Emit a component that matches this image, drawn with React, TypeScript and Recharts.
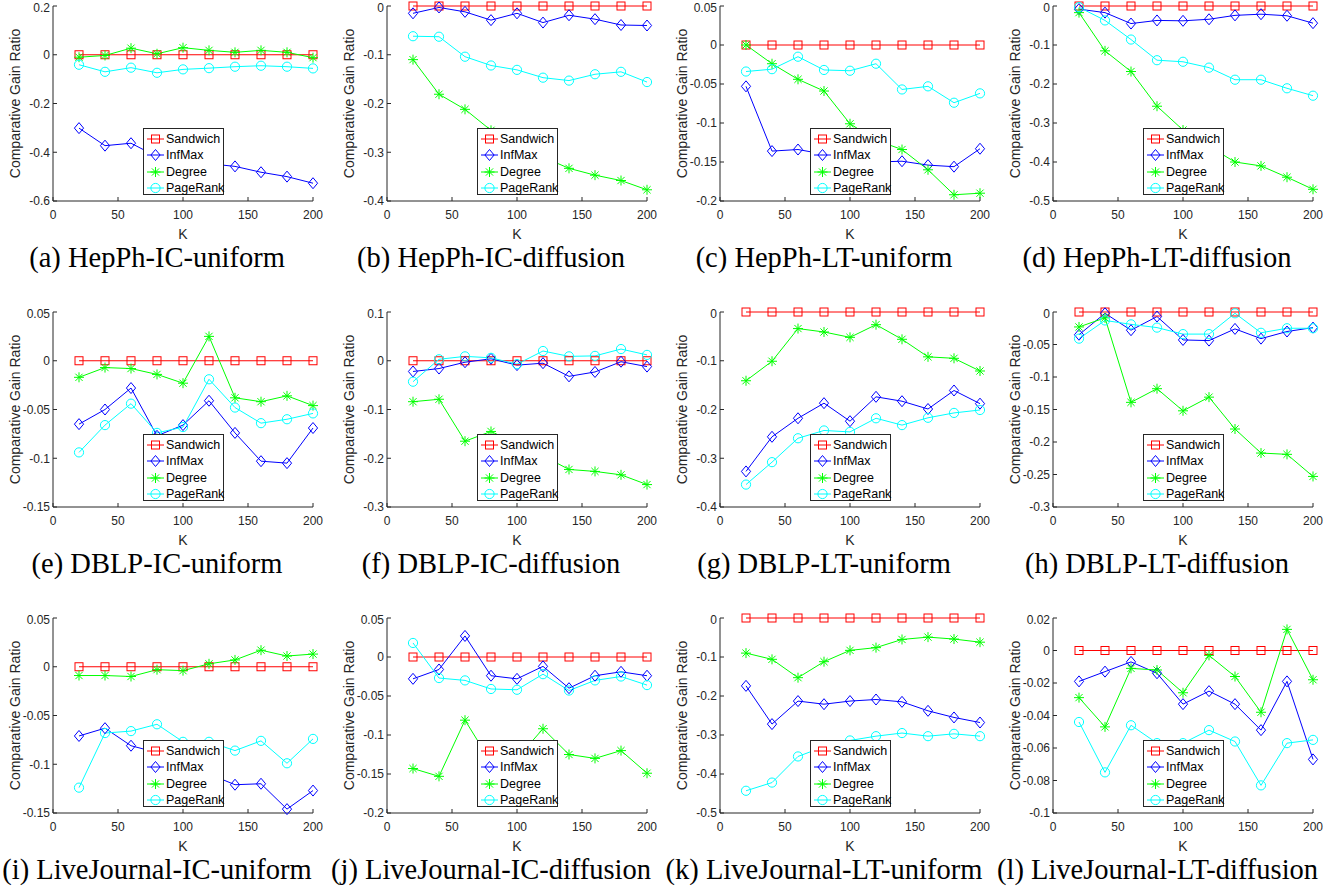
import React from 'react';
import { LineChart, Line, XAxis, YAxis, Legend } from 'recharts';

const K = [20, 40, 60, 80, 100, 120, 140, 160, 180, 200];
const SANDWICH = [0, 0, 0, 0, 0, 0, 0, 0, 0, 0];
const X_TICKS = [0, 50, 100, 150, 200];

// (a) HepPh-IC-uniform
const A_INFMAX = [-0.301, -0.373, -0.363, -0.418, -0.435, -0.447, -0.458, -0.482, -0.5, -0.527];
const A_DEGREE = [-0.01, -0.003, 0.027, 0.004, 0.029, 0.018, 0.01, 0.018, 0.01, -0.012];
const A_PAGERANK = [-0.041, -0.07, -0.053, -0.074, -0.06, -0.055, -0.049, -0.045, -0.049, -0.056];
// (b) HepPh-IC-diffusion
const B_INFMAX = [-0.015, -0.003, -0.012, -0.029, -0.015, -0.034, -0.019, -0.027, -0.039, -0.04];
const B_DEGREE = [-0.11, -0.181, -0.212, -0.255, -0.28, -0.31, -0.333, -0.347, -0.358, -0.377];
const B_PAGERANK = [-0.062, -0.063, -0.104, -0.122, -0.131, -0.147, -0.153, -0.14, -0.135, -0.156];
// (c) HepPh-LT-uniform
const C_INFMAX = [-0.053, -0.136, -0.134, -0.14, -0.145, -0.15, -0.149, -0.154, -0.156, -0.133];
const C_DEGREE = [0, -0.024, -0.044, -0.059, -0.101, -0.122, -0.134, -0.16, -0.192, -0.19];
const C_PAGERANK = [-0.034, -0.031, -0.015, -0.032, -0.033, -0.024, -0.057, -0.053, -0.074, -0.062];
// (d) HepPh-LT-diffusion
const D_INFMAX = [-0.008, -0.017, -0.045, -0.037, -0.038, -0.034, -0.024, -0.021, -0.025, -0.044];
const D_DEGREE = [-0.017, -0.115, -0.168, -0.257, -0.318, -0.36, -0.4, -0.41, -0.439, -0.47];
const D_PAGERANK = [-0.003, -0.037, -0.086, -0.139, -0.143, -0.158, -0.189, -0.189, -0.211, -0.23];
// (e) DBLP-IC-uniform
const E_INFMAX = [-0.065, -0.05, -0.028, -0.077, -0.066, -0.041, -0.074, -0.103, -0.105, -0.069];
const E_DEGREE = [-0.017, -0.007, -0.008, -0.014, -0.023, 0.025, -0.038, -0.042, -0.036, -0.046];
const E_PAGERANK = [-0.094, -0.066, -0.044, -0.074, -0.068, -0.019, -0.048, -0.064, -0.06, -0.054];
// (f) DBLP-IC-diffusion
const F_INFMAX = [-0.022, -0.016, -0.003, 0.004, -0.009, -0.005, -0.032, -0.023, -0.002, -0.012];
const F_DEGREE = [-0.084, -0.079, -0.165, -0.145, -0.17, -0.195, -0.223, -0.227, -0.234, -0.254];
const F_PAGERANK = [-0.043, 0.003, 0.009, 0.006, -0.007, 0.02, 0.009, 0.01, 0.024, 0.012];
// (g) DBLP-LT-uniform
const G_INFMAX = [-0.327, -0.256, -0.218, -0.187, -0.224, -0.174, -0.183, -0.199, -0.161, -0.188];
const G_DEGREE = [-0.141, -0.101, -0.034, -0.041, -0.052, -0.026, -0.056, -0.092, -0.095, -0.121];
const G_PAGERANK = [-0.354, -0.308, -0.259, -0.243, -0.246, -0.218, -0.232, -0.217, -0.207, -0.201];
// (h) DBLP-LT-diffusion
const H_INFMAX = [-0.035, -0.002, -0.028, -0.007, -0.043, -0.044, -0.026, -0.041, -0.03, -0.024];
const H_DEGREE = [-0.023, -0.009, -0.139, -0.118, -0.152, -0.131, -0.18, -0.217, -0.219, -0.253];
const H_PAGERANK = [-0.041, -0.013, -0.019, -0.024, -0.034, -0.034, -0.002, -0.032, -0.025, -0.025];
// (i) LiveJournal-IC-uniform
const I_INFMAX = [-0.071, -0.063, -0.081, -0.088, -0.096, -0.11, -0.121, -0.12, -0.146, -0.127];
const I_DEGREE = [-0.009, -0.009, -0.01, -0.003, -0.004, 0.003, 0.007, 0.017, 0.011, 0.013];
const I_PAGERANK = [-0.124, -0.068, -0.066, -0.059, -0.077, -0.077, -0.086, -0.076, -0.099, -0.074];
// (j) LiveJournal-IC-diffusion
const J_INFMAX = [-0.028, -0.016, 0.027, -0.024, -0.028, -0.012, -0.04, -0.024, -0.019, -0.024];
const J_DEGREE = [-0.143, -0.153, -0.081, -0.135, -0.13, -0.092, -0.125, -0.13, -0.12, -0.149];
const J_PAGERANK = [0.018, -0.027, -0.03, -0.041, -0.042, -0.022, -0.043, -0.03, -0.025, -0.036];
// (k) LiveJournal-LT-uniform
const K_INFMAX = [-0.174, -0.272, -0.213, -0.221, -0.213, -0.209, -0.215, -0.238, -0.255, -0.268];
const K_DEGREE = [-0.09, -0.106, -0.153, -0.112, -0.083, -0.076, -0.055, -0.049, -0.054, -0.062];
const K_PAGERANK = [-0.443, -0.422, -0.355, -0.33, -0.314, -0.303, -0.295, -0.303, -0.297, -0.303];
// (l) LiveJournal-LT-diffusion
const L_INFMAX = [-0.019, -0.013, -0.007, -0.014, -0.033, -0.025, -0.033, -0.049, -0.019, -0.067];
const L_DEGREE = [-0.029, -0.047, -0.011, -0.012, -0.026, -0.003, -0.016, -0.038, 0.013, -0.018];
const L_PAGERANK = [-0.044, -0.075, -0.046, -0.057, -0.057, -0.049, -0.056, -0.083, -0.057, -0.055];

const SERIES = [
  { key: 'sandwich', name: 'Sandwich', color: '#ff0000', shape: 'square' },
  { key: 'infmax', name: 'InfMax', color: '#0000ff', shape: 'diamond' },
  { key: 'degree', name: 'Degree', color: '#00ff00', shape: 'star' },
  { key: 'pagerank', name: 'PageRank', color: '#00ffff', shape: 'circle' },
];

const PANELS = [
  { caption: '(a) HepPh-IC-uniform', inf: A_INFMAX, deg: A_DEGREE, pr: A_PAGERANK, domain: [-0.6, 0.2], ticks: [-0.6, -0.4, -0.2, 0, 0.2] },
  { caption: '(b) HepPh-IC-diffusion', inf: B_INFMAX, deg: B_DEGREE, pr: B_PAGERANK, domain: [-0.4, 0], ticks: [-0.4, -0.3, -0.2, -0.1, 0] },
  { caption: '(c) HepPh-LT-uniform', inf: C_INFMAX, deg: C_DEGREE, pr: C_PAGERANK, domain: [-0.2, 0.05], ticks: [-0.2, -0.15, -0.1, -0.05, 0, 0.05] },
  { caption: '(d) HepPh-LT-diffusion', inf: D_INFMAX, deg: D_DEGREE, pr: D_PAGERANK, domain: [-0.5, 0], ticks: [-0.5, -0.4, -0.3, -0.2, -0.1, 0] },
  { caption: '(e) DBLP-IC-uniform', inf: E_INFMAX, deg: E_DEGREE, pr: E_PAGERANK, domain: [-0.15, 0.05], ticks: [-0.15, -0.1, -0.05, 0, 0.05] },
  { caption: '(f) DBLP-IC-diffusion', inf: F_INFMAX, deg: F_DEGREE, pr: F_PAGERANK, domain: [-0.3, 0.1], ticks: [-0.3, -0.2, -0.1, 0, 0.1] },
  { caption: '(g) DBLP-LT-uniform', inf: G_INFMAX, deg: G_DEGREE, pr: G_PAGERANK, domain: [-0.4, 0], ticks: [-0.4, -0.3, -0.2, -0.1, 0] },
  { caption: '(h) DBLP-LT-diffusion', inf: H_INFMAX, deg: H_DEGREE, pr: H_PAGERANK, domain: [-0.3, 0], ticks: [-0.3, -0.25, -0.2, -0.15, -0.1, -0.05, 0] },
  { caption: '(i) LiveJournal-IC-uniform', inf: I_INFMAX, deg: I_DEGREE, pr: I_PAGERANK, domain: [-0.15, 0.05], ticks: [-0.15, -0.1, -0.05, 0, 0.05] },
  { caption: '(j) LiveJournal-IC-diffusion', inf: J_INFMAX, deg: J_DEGREE, pr: J_PAGERANK, domain: [-0.2, 0.05], ticks: [-0.2, -0.15, -0.1, -0.05, 0, 0.05] },
  { caption: '(k) LiveJournal-LT-uniform', inf: K_INFMAX, deg: K_DEGREE, pr: K_PAGERANK, domain: [-0.5, 0], ticks: [-0.5, -0.4, -0.3, -0.2, -0.1, 0] },
  { caption: '(l) LiveJournal-LT-diffusion', inf: L_INFMAX, deg: L_DEGREE, pr: L_PAGERANK, domain: [-0.1, 0.02], ticks: [-0.1, -0.08, -0.06, -0.04, -0.02, 0, 0.02] },
];

const COL_X = [0, 334, 667, 1000];
const ROW_Y = [0, 306, 612];
const AXIS = '#262626';
const SANS = '"Liberation Sans", Arial, Helvetica, sans-serif';

function Marker({ shape, cx, cy, color }: { shape: string; cx: number; cy: number; color: string }) {
  if (shape === 'square') {
    return <rect x={cx - 4} y={cy - 4} width={8} height={8} fill="none" stroke={color} strokeWidth={1} />;
  }
  if (shape === 'diamond') {
    return (
      <path
        d={`M${cx},${cy - 5.5}L${cx + 4.6},${cy}L${cx},${cy + 5.5}L${cx - 4.6},${cy}Z`}
        fill="none"
        stroke={color}
        strokeWidth={1}
      />
    );
  }
  if (shape === 'star') {
    const r = 5;
    const d = 3.6;
    return (
      <path
        d={`M${cx - r},${cy}H${cx + r}M${cx},${cy - r}V${cy + r}M${cx - d},${cy - d}L${cx + d},${cy + d}M${cx - d},${cy + d}L${cx + d},${cy - d}`}
        stroke={color}
        strokeWidth={1}
        fill="none"
      />
    );
  }
  return <circle cx={cx} cy={cy} r={4.6} fill="none" stroke={color} strokeWidth={1} />;
}

function LegendBox() {
  return (
    <div
      style={{
        width: 79,
        height: 63,
        padding: '2px 0 0 0',
        border: `1px solid ${AXIS}`,
        background: '#fff',
        fontFamily: SANS,
        fontSize: 12.5,
        color: '#000',
      }}
    >
      {SERIES.map((s) => (
        <div key={s.key} style={{ display: 'flex', alignItems: 'center', height: 16.3 }}>
          <svg width={22} height={16} style={{ flex: 'none' }}>
            <line x1={3} x2={20} y1={8} y2={8} stroke={s.color} strokeWidth={1} />
            <Marker shape={s.shape} cx={11.5} cy={8} color={s.color} />
          </svg>
          <span style={{ lineHeight: '16px' }}>{s.name}</span>
        </div>
      ))}
    </div>
  );
}

function Panel({ panel, index }: { panel: (typeof PANELS)[number]; index: number }) {
  const col = index % 4;
  const row = Math.floor(index / 4);
  const data = K.map((k, i) => ({
    k,
    sandwich: SANDWICH[i],
    infmax: panel.inf[i],
    degree: panel.deg[i],
    pagerank: panel.pr[i],
  }));
  const tickStyle = { fontFamily: SANS, fontSize: 12, fill: AXIS };
  return (
    <div style={{ position: 'absolute', left: COL_X[col], top: ROW_Y[row], width: 330, height: 300 }}>
      <LineChart width={330} height={241} data={data} margin={{ top: 6, right: 17, bottom: 0, left: 0 }}>
        <XAxis
          dataKey="k"
          type="number"
          domain={[0, 200]}
          ticks={X_TICKS}
          height={40}
          tickSize={-4}
          tickMargin={13}
          stroke={AXIS}
          tick={tickStyle}
          label={{ value: 'K', position: 'insideBottom', offset: 2, style: { fontFamily: SANS, fontSize: 14, fill: AXIS } }}
        />
        <XAxis
          xAxisId="top"
          orientation="top"
          dataKey="k"
          type="number"
          domain={[0, 200]}
          ticks={X_TICKS}
          height={0}
          tickSize={-4}
          tick={false}
          stroke={AXIS}
        />
        <YAxis
          type="number"
          domain={panel.domain}
          ticks={panel.ticks}
          width={53}
          tickSize={-4}
          tickMargin={7}
          stroke={AXIS}
          tick={tickStyle}
          tickFormatter={(v: number) => String(v)}
          label={{
            value: 'Comparative Gain Ratio',
            angle: -90,
            position: 'insideLeft',
            offset: 15,
            style: { textAnchor: 'middle', fontFamily: SANS, fontSize: 14, fill: AXIS },
          }}
        />
        <YAxis
          yAxisId="right"
          orientation="right"
          type="number"
          domain={panel.domain}
          ticks={panel.ticks}
          width={0}
          tickSize={-4}
          tick={false}
          stroke={AXIS}
        />
        {SERIES.map((s) => (
          <Line
            key={s.key}
            type="linear"
            dataKey={s.key}
            name={s.name}
            stroke={s.color}
            strokeWidth={1}
            isAnimationActive={false}
            activeDot={false}
            dot={(p: any) => <Marker key={`${s.key}-${p.index}`} shape={s.shape} cx={p.cx} cy={p.cy} color={s.color} />}
          />
        ))}
        <Legend
          layout="vertical"
          align="center"
          verticalAlign="middle"
          content={() => <LegendBox />}
          wrapperStyle={{ left: 143, top: 128, width: 81, height: 67, margin: 0 }}
        />
      </LineChart>
      <div
        style={{
          position: 'absolute',
          left: -3,
          top: 243,
          width: 320,
          textAlign: 'center',
          fontFamily: '"Liberation Serif", "Times New Roman", serif',
          fontSize: 28.5,
          lineHeight: '29px',
          color: '#000',
          whiteSpace: 'nowrap',
        }}
      >
        {panel.caption}
      </div>
    </div>
  );
}

export default function App() {
  return (
    <div style={{ position: 'absolute', left: 0, top: 0, width: 1341, height: 888, background: '#fff', overflow: 'hidden' }}>
      {PANELS.map((p, i) => (
        <Panel key={p.caption} panel={p} index={i} />
      ))}
    </div>
  );
}
